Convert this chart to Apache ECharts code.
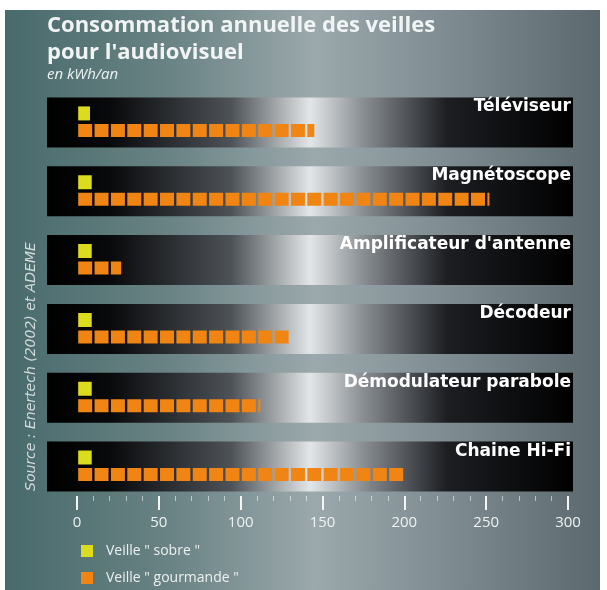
<!DOCTYPE html>
<html>
<head>
<meta charset="utf-8">
<script src="https://cdn.jsdelivr.net/npm/echarts@6/dist/echarts.min.js"></script>
<style>
  html, body { margin: 0; padding: 0; background: #fff; }
  #bg {
    position: absolute; left: 5px; top: 10px; width: 595px; height: 580px;
    background: linear-gradient(90deg, #486a6b 0%, #6a8384 28%, #9ba8ac 52%, #7c898e 76%, #5b686d 100%);
  }
  #chart { position: absolute; left: 0; top: 0; width: 607px; height: 590px; }
</style>
</head>
<body>
<div id="bg"></div>
<div id="chart"></div>
<script>
// catégories (de haut en bas)
const categories = ['Téléviseur', 'Magnétoscope', "Amplificateur d'antenne", 'Décodeur', 'Démodulateur parabole', 'Chaine Hi-Fi'];
// consommation en kWh/an
const sobre = [8, 9, 9, 9, 9, 9];
const gourmande = [145, 252, 27, 130, 112, 200];
const xTicks = [0, 50, 100, 150, 200, 250, 300];

const chart = echarts.init(document.getElementById('chart'));

// dégradé des bandes noires
const bandFill = new echarts.graphic.LinearGradient(0, 0, 1, 0, [
  { offset: 0, color: '#000' },
  { offset: 0.12, color: '#08090b' },
  { offset: 0.35, color: '#4d5257' },
  { offset: 0.5, color: '#e2e6e8' },
  { offset: 0.6, color: '#8a8f94' },
  { offset: 0.76, color: '#1c1e22' },
  { offset: 1, color: '#000' }
]);

const legendText = { color: '#eef0f0', fontSize: 14, padding: [0, 0, 0, 8] };

const option = {
  animation: false,
  textStyle: { fontFamily: '"Open Sans", sans-serif' },
  title: {
    text: "Consommation annuelle des veilles\npour l'audiovisuel",
    subtext: 'en kWh/an',
    left: 42,
    top: 7,
    itemGap: 1,
    textStyle: { color: '#f1f4f4', fontSize: 22, fontWeight: 'bold', lineHeight: 27, fontFamily: '"Open Sans"' },
    subtextStyle: { color: '#eef2f2', fontSize: 15, fontStyle: 'italic', fontFamily: '"Open Sans"' }
  },
  legend: [
    {
      left: 76, top: 539, itemWidth: 12, itemHeight: 12, icon: 'rect',
      data: ['Veille " sobre "'], textStyle: legendText
    },
    {
      left: 76, top: 566, itemWidth: 12, itemHeight: 12, icon: 'rect',
      data: ['Veille " gourmande "'], textStyle: legendText
    }
  ],
  grid: { left: 77, right: 39, top: 88, bottom: 89 },
  xAxis: {
    type: 'value',
    min: xTicks[0],
    max: xTicks[xTicks.length - 1],
    interval: 50,
    offset: -5,
    axisLine: { show: false },
    axisTick: { show: true, length: 14, lineStyle: { color: '#f4f6f6', width: 2 } },
    minorTick: { show: true, splitNumber: 5, length: 5, lineStyle: { color: 'rgba(255,255,255,0.55)', width: 1 } },
    splitLine: { show: false },
    axisLabel: { color: '#eef2f2', fontSize: 15, margin: 19 }
  },
  yAxis: {
    type: 'category',
    data: categories,
    inverse: true,
    show: false
  },
  graphic: [{
    type: 'text',
    x: 31,
    y: 491,
    rotation: Math.PI / 2,
    style: {
      text: 'Source : Enertech (2002) et ADEME',
      fill: '#d2dada',
      font: 'italic 14px "DejaVu Sans"',
      align: 'left',
      verticalAlign: 'middle'
    }
  }],
  series: [
    {
      // bandes de fond + libellés
      type: 'custom',
      z: 0,
      silent: true,
      data: categories.map((c) => [0, c]),
      encode: { x: 0, y: 1 },
      renderItem: function (params, api) {
        const cs = params.coordSys;
        const yc = api.coord([0, api.value(1)])[1];
        const h = 50;
        return {
          type: 'group',
          children: [
            {
              type: 'rect',
              shape: { x: cs.x - 30, y: yc - h / 2, width: cs.width + 35, height: h },
              style: { fill: bandFill }
            },
            {
              type: 'text',
              style: {
                text: categories[params.dataIndex],
                x: cs.x + cs.width + 3,
                y: yc - h / 2 + 1,
                align: 'right',
                verticalAlign: 'top',
                fill: '#ffffff',
                font: 'bold 17px "DejaVu Sans"'
              }
            }
          ]
        };
      }
    },
    {
      name: 'Veille " sobre "',
      type: 'pictorialBar',
      z: 3,
      data: sobre,
      symbol: 'rect',
      symbolSize: [14, 14],
      symbolRepeat: true,
      symbolClip: true,
      symbolBoundingData: 300,
      symbolMargin: '1.2!',
      symbolOffset: [0, -9],
      barWidth: 14,
      barGap: '-100%',
      itemStyle: { color: '#dcdc1e' }
    },
    {
      name: 'Veille " gourmande "',
      type: 'pictorialBar',
      z: 3,
      data: gourmande,
      symbol: 'rect',
      symbolSize: [14, 13],
      symbolRepeat: true,
      symbolClip: true,
      symbolBoundingData: 300,
      symbolMargin: '1.2!',
      symbolOffset: [0, 8],
      barWidth: 14,
      barGap: '-100%',
      itemStyle: { color: '#f08514' }
    }
  ]
};

chart.setOption(option);
window.onresize = chart.resize;
</script>
</body>
</html>
